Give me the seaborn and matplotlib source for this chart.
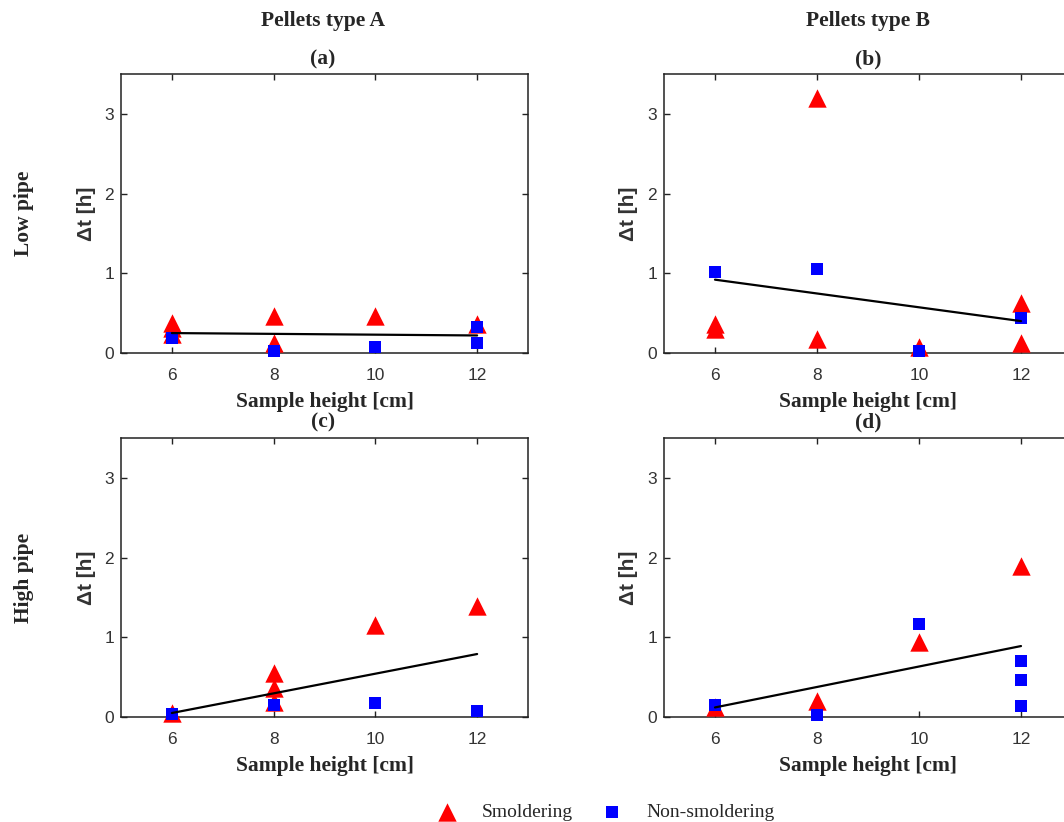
import matplotlib
matplotlib.use("Agg")
import matplotlib.pyplot as plt
import seaborn as sns

# ---------------- data ----------------
height_ticks = [6, 8, 10, 12]
y_ticks = [0, 1, 2, 3]

# (a) Low pipe, pellets A
a_smold_x = [6, 6, 6, 8, 8, 10, 12]
a_smold_y = [0.38, 0.31, 0.24, 0.46, 0.13, 0.47, 0.37]
a_non_x = [6, 8, 10, 12, 12]
a_non_y = [0.19, 0.03, 0.08, 0.32, 0.13]
a_fit_x = [6, 12]
a_fit_y = [0.25, 0.22]

# (b) Low pipe, pellets B
b_smold_x = [6, 6, 8, 8, 10, 12, 12]
b_smold_y = [0.37, 0.30, 3.20, 0.17, 0.08, 0.63, 0.13]
b_non_x = [6, 8, 10, 12]
b_non_y = [1.01, 1.06, 0.02, 0.44]
b_fit_x = [6, 12]
b_fit_y = [0.92, 0.40]

# (c) High pipe, pellets A
c_smold_x = [6, 8, 8, 8, 10, 12]
c_smold_y = [0.05, 0.55, 0.36, 0.19, 1.16, 1.39]
c_non_x = [6, 8, 10, 12]
c_non_y = [0.04, 0.15, 0.17, 0.08]
c_fit_x = [6, 12]
c_fit_y = [0.05, 0.79]

# (d) High pipe, pellets B
d_smold_x = [6, 8, 10, 12]
d_smold_y = [0.13, 0.20, 0.94, 1.89]
d_non_x = [6, 8, 10, 12, 12, 12]
d_non_y = [0.15, 0.02, 1.17, 0.70, 0.46, 0.14]
d_fit_x = [6, 12]
d_fit_y = [0.12, 0.89]

panel_letters = ["(a)", "(b)", "(c)", "(d)"]
column_titles = ["Pellets type A", "Pellets type B"]
row_titles = ["Low pipe", "High pipe"]
legend_labels = ["Smoldering", "Non-smoldering"]
xlabel_text = "Sample height [cm]"
ylabel_text = "\u0394t [h]"

# ---------------- style ----------------
sns.set_style("ticks")
plt.rcParams["font.family"] = ["Liberation Sans", "DejaVu Sans"]

W, H = 1064, 822
fig = plt.figure(figsize=(W / 100, H / 100), dpi=100)


def rect(l, t, r, b):
    return [l / W, 1 - b / H, (r - l) / W, (b - t) / H]


serif = dict(family="Liberation Serif", weight="bold")
RED = "#ff0000"
BLUE = "#0000ff"
TEXT_GRAY = "#333333"
SERIF_SIZE = 15.5

panels = [
    (rect(121, 74, 528, 353), a_smold_x, a_smold_y, a_non_x, a_non_y, a_fit_x, a_fit_y),
    (rect(664, 74, 1072, 353), b_smold_x, b_smold_y, b_non_x, b_non_y, b_fit_x, b_fit_y),
    (rect(121, 438, 528, 717), c_smold_x, c_smold_y, c_non_x, c_non_y, c_fit_x, c_fit_y),
    (rect(664, 438, 1072, 717), d_smold_x, d_smold_y, d_non_x, d_non_y, d_fit_x, d_fit_y),
]

axes = []
for pos, sx, sy, nx, ny, fx, fy in panels:
    ax = fig.add_axes(pos)
    sns.scatterplot(x=sx, y=sy, ax=ax, marker="^", color=RED, s=175,
                    linewidth=0, label=legend_labels[0], legend=False,
                    clip_on=False, zorder=3)
    sns.scatterplot(x=nx, y=ny, ax=ax, marker="s", color=BLUE, s=70,
                    linewidth=0, label=legend_labels[1], legend=False,
                    clip_on=False, zorder=4)
    sns.lineplot(x=fx, y=fy, ax=ax, color="black", linewidth=1.6,
                 legend=False, zorder=5)
    ax.set_xlim(5, 13)
    ax.set_ylim(0, 3.5)
    ax.set_xticks(height_ticks)
    ax.set_yticks(y_ticks)
    ax.tick_params(direction="in", top=True, right=True, length=4, width=1,
                   color="#222222", labelsize=12.5, labelcolor=TEXT_GRAY)
    ax.tick_params(axis="x", pad=11)
    ax.tick_params(axis="y", pad=5)
    for sp in ax.spines.values():
        sp.set_visible(True)
        sp.set_color("#222222")
        sp.set_linewidth(1.1)
    ax.set_xlabel(xlabel_text, fontsize=SERIF_SIZE, va="center", **serif)
    ax.xaxis.set_label_coords(0.5, -(402 - 353) / 279)
    ax.set_ylabel(ylabel_text, fontsize=15, fontweight="bold", color=TEXT_GRAY,
                  va="center")
    ax.yaxis.set_label_coords(-35 / 408, 0.5)
    axes.append(ax)

# panel letters
for (cx, cy), letter in zip([(323, 59), (868, 59), (323, 422), (868, 422)], panel_letters):
    fig.text(cx / W, 1 - cy / H, letter, ha="center", va="center",
             fontsize=SERIF_SIZE, **serif)

# column titles
for cx, title in zip([323, 868], column_titles):
    fig.text(cx / W, 1 - 21 / H, title, ha="center", va="center",
             fontsize=SERIF_SIZE, **serif)

# row titles
for cy, title in zip([213, 578], row_titles):
    fig.text(24 / W, 1 - cy / H, title, ha="center", va="center", rotation=90,
             fontsize=SERIF_SIZE, **serif)

# shared legend
handles, labels = axes[0].get_legend_handles_labels()
fig.legend(handles[:2], labels[:2], loc="center", bbox_to_anchor=(601 / W, 1 - 812 / H),
           ncol=2, frameon=False, handletextpad=0.8, columnspacing=1.0,
           prop=dict(family="Liberation Serif", size=14))

fig.savefig("out.png", dpi=100)
